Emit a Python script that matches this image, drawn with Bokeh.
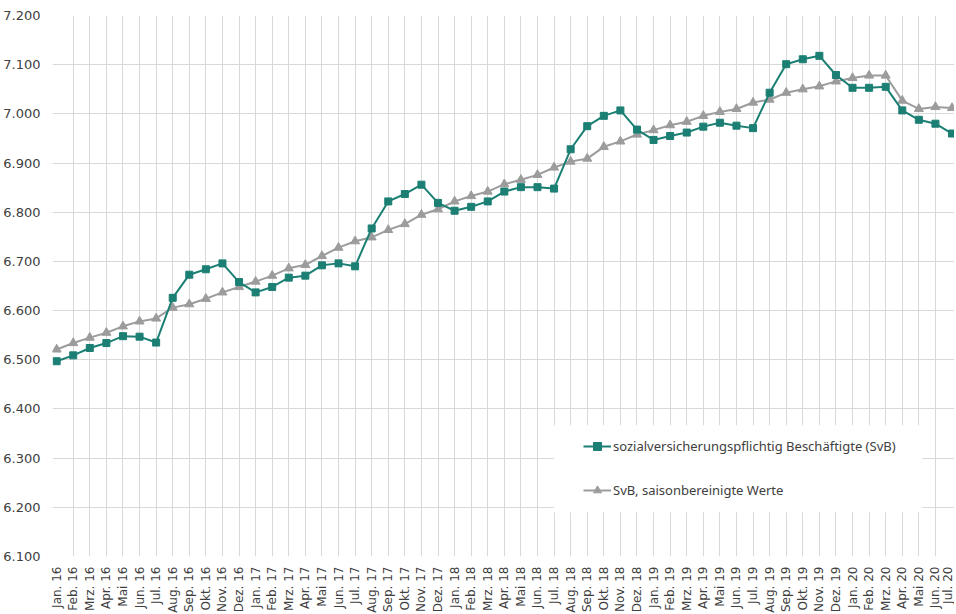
import math
from bokeh.plotting import figure
from bokeh.models import ColumnDataSource, FixedTicker, Legend, LegendItem, BoxAnnotation, Range1d
from bokeh.embed import file_html
from bokeh.resources import INLINE

months = ["Jan. 16", "Feb. 16", "Mrz. 16", "Apr. 16", "Mai 16", "Jun. 16", "Jul. 16", "Aug. 16", "Sep. 16", "Okt. 16", "Nov. 16", "Dez. 16",
          "Jan. 17", "Feb. 17", "Mrz. 17", "Apr. 17", "Mai 17", "Jun. 17", "Jul. 17", "Aug. 17", "Sep. 17", "Okt. 17", "Nov. 17", "Dez. 17",
          "Jan. 18", "Feb. 18", "Mrz. 18", "Apr. 18", "Mai 18", "Jun. 18", "Jul. 18", "Aug. 18", "Sep. 18", "Okt. 18", "Nov. 18", "Dez. 18",
          "Jan. 19", "Feb. 19", "Mrz. 19", "Apr. 19", "Mai 19", "Jun. 19", "Jul. 19", "Aug. 19", "Sep. 19", "Okt. 19", "Nov. 19", "Dez. 19",
          "Jan. 20", "Feb. 20", "Mrz. 20", "Apr. 20", "Mai 20", "Jun. 20", "Jul. 20"]

svb = [6497, 6509, 6524, 6534, 6548, 6547, 6535, 6626, 6673, 6684, 6696, 6658,
       6637, 6648, 6667, 6671, 6692, 6696, 6690, 6767, 6822, 6837, 6856, 6819,
       6803, 6811, 6822, 6842, 6851, 6851, 6848, 6928, 6975, 6996, 7007, 6968,
       6947, 6955, 6962, 6974, 6982, 6976, 6971, 7043, 7101, 7111, 7118, 7079,
       7053, 7053, 7055, 7007, 6988, 6980, 6960]

svb_sa = [6521, 6534, 6545, 6555, 6568, 6578, 6584, 6606, 6613, 6624, 6637, 6648,
          6659, 6671, 6686, 6693, 6711, 6728, 6741, 6749, 6764, 6776, 6795, 6806,
          6822, 6833, 6842, 6857, 6866, 6876, 6891, 6903, 6909, 6933, 6944, 6958,
          6967, 6977, 6984, 6996, 7004, 7010, 7023, 7029, 7043, 7050, 7056, 7066,
          7073, 7078, 7078, 7027, 7010, 7014, 7012]

y_ticks = [6100, 6200, 6300, 6400, 6500, 6600, 6700, 6800, 6900, 7000, 7100, 7200]
y_tick_labels = ["6.100", "6.200", "6.300", "6.400", "6.500", "6.600", "6.700", "6.800", "6.900", "7.000", "7.100", "7.200"]

label_svb = "sozialversicherungspflichtig Beschäftigte (SvB)"
label_sa = "SvB, saisonbereinigte Werte"

TEAL = "#1b7f74"
GRAY = "#9c9c9c"
TEXT = "#404040"
FONT = "DejaVu Sans"

xs = list(range(len(months)))
src = ColumnDataSource(dict(x=xs, svb=svb, sa=svb_sa))

p = figure(width=954, height=615, output_backend="svg", toolbar_location=None,
           x_range=Range1d(-0.25, len(months) - 0.85), y_range=Range1d(6100, 7200))
p.min_border_left = 44
p.min_border_right = 0
p.min_border_top = 15
p.min_border_bottom = 40
p.outline_line_color = None
p.background_fill_color = "white"
p.border_fill_color = "white"

p.xaxis.ticker = FixedTicker(ticks=xs)
p.yaxis.ticker = FixedTicker(ticks=y_ticks)
p.xgrid.ticker = FixedTicker(ticks=xs[1:-1])
p.ygrid.ticker = FixedTicker(ticks=y_ticks[1:-1])
p.xaxis.major_label_overrides = {i: m for i, m in enumerate(months)}
p.yaxis.major_label_overrides = {v: l for v, l in zip(y_ticks, y_tick_labels)}
p.xgrid.grid_line_color = "#d9d9d9"
p.ygrid.grid_line_color = "#d9d9d9"

for ax in (p.xaxis, p.yaxis):
    ax.axis_line_color = None
    ax.major_tick_line_color = None
    ax.minor_tick_line_color = None
    ax.major_label_text_color = TEXT
    ax.major_label_text_font = FONT
p.xaxis.major_label_orientation = math.pi / 2
p.xaxis.major_label_text_font_size = "12px"
p.xaxis.major_label_standoff = 4
p.yaxis.major_label_text_font_size = "13px"
p.yaxis.major_label_standoff = 6

# legend backdrop
p.add_layout(BoxAnnotation(left=30.0, right=52.2, bottom=6190, top=6367,
                           fill_color="white", fill_alpha=1.0, line_color=None, level="underlay"))

l1 = p.line("x", "sa", source=src, line_color=GRAY, line_width=2)
m1 = p.scatter("x", "sa", source=src, marker="triangle", size=9, fill_color=GRAY, line_color=GRAY)
l2 = p.line("x", "svb", source=src, line_color=TEAL, line_width=2)
m2 = p.scatter("x", "svb", source=src, marker="square", size=7, fill_color=TEAL, line_color=TEAL)

legend = Legend(items=[LegendItem(label=label_svb, renderers=[l2, m2]),
                       LegendItem(label=label_sa, renderers=[l1, m1])],
                location=(531, 56))
legend.background_fill_alpha = 0.0
legend.border_line_color = None
legend.label_text_font = "Noto Sans"
legend.label_text_font_size = "13px"
legend.label_text_color = TEXT
legend.glyph_width = 28
legend.glyph_height = 20
legend.label_height = 20
legend.label_standoff = 2
legend.spacing = 24
legend.padding = 12
p.add_layout(legend, "center")

open("out.html", "w").write(file_html(p, INLINE))
